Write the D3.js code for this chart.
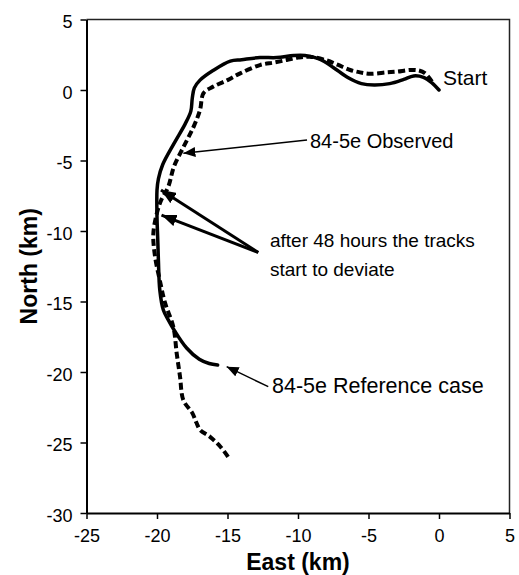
<!DOCTYPE html>
<html>
<head>
<meta charset="utf-8">
<script src="https://cdn.jsdelivr.net/npm/d3@7"></script>
<style>
  body { margin: 0; background: white; }
  text { font-family: "Liberation Sans", Arial, sans-serif; fill: #000; }
  .axis text { font-size: 18px; }
  .axis path, .axis line { stroke: #000; }
</style>
</head>
<body>
<script>
var width = 519;
var height = 575;

// axis ticks
var xTicks = [-25, -20, -15, -10, -5, 0, 5];
var yTicks = [5, 0, -5, -10, -15, -20, -25, -30];

// 84-5e Reference case (solid)
var refEast  = [0, -0.5, -1.1, -1.8, -2.5, -3.5, -4.6, -5.5, -6.5, -7.5, -8.5, -9.5, -10.3, -11.5, -12.7, -14.0, -14.8, -16.0, -16.95, -17.35, -17.5, -17.6, -18.0, -18.8, -19.6, -19.9, -20.0, -20.0, -19.95, -19.9, -19.8, -19.55, -19.2, -18.8, -17.9, -17.0, -16.3, -15.7];
var refNorth = [0, 0.5, 0.9, 1.0, 0.75, 0.45, 0.35, 0.45, 0.9, 1.6, 2.2, 2.45, 2.45, 2.3, 2.3, 2.15, 2.05, 1.4, 0.7, 0.15, -0.6, -1.5, -2.4, -3.8, -5.3, -6.3, -7.1, -9.0, -10.5, -12.1, -14.2, -15.6, -16.3, -17.0, -18.3, -19.1, -19.4, -19.5];

// 84-5e Observed (dashed)
var obsEast  = [-0.5, -1.0, -1.5, -2.06, -3.0, -3.71, -4.9, -5.6, -6.3, -7.2, -7.97, -9.15, -10.0, -10.8, -11.7, -12.7, -14.1, -15.0, -16.0, -16.7, -16.95, -17.4, -18.1, -18.8, -19.2, -19.7, -20.0, -20.26, -20.14, -19.8, -19.43, -18.84, -18.6, -18.37, -18.13, -17.5, -17.2, -16.95, -16.24, -15.5, -14.9];
var obsNorth = [0.6, 1.2, 1.4, 1.42, 1.3, 1.25, 1.15, 1.25, 1.42, 1.8, 2.1, 2.36, 2.3, 2.13, 1.95, 1.77, 1.18, 0.7, 0.24, -0.23, -1.42, -2.6, -4.0, -5.44, -6.86, -7.8, -8.7, -10.2, -11.8, -13.5, -15.1, -16.8, -18.7, -20.3, -22.0, -22.9, -23.6, -24.1, -24.6, -25.3, -26.1];

var margin = {top: 19.5, right: 9.5, bottom: 62, left: 86.5};

var x = d3.scaleLinear().domain([-25, 5]).range([margin.left, width - margin.right]);
var y = d3.scaleLinear().domain([-30, 5]).range([height - margin.bottom, margin.top]);

var svg = d3.select("body").append("svg")
  .attr("width", width)
  .attr("height", height);

var defs = svg.append("defs");
defs.append("marker")
  .attr("id", "headThin")
  .attr("markerUnits", "userSpaceOnUse")
  .attr("viewBox", "0 0 12 10")
  .attr("refX", 12).attr("refY", 5)
  .attr("markerWidth", 12).attr("markerHeight", 10)
  .attr("orient", "auto")
  .append("path").attr("d", "M0,0L12,5L0,10Z").attr("fill", "#000");
defs.append("marker")
  .attr("id", "headThick")
  .attr("markerUnits", "userSpaceOnUse")
  .attr("viewBox", "0 0 15 12")
  .attr("refX", 15).attr("refY", 6)
  .attr("markerWidth", 15).attr("markerHeight", 12)
  .attr("orient", "auto")
  .append("path").attr("d", "M0,0L15,6L0,12Z").attr("fill", "#000");

// frame (top and right)
svg.append("path")
  .attr("d", "M" + x(-25) + "," + y(5) + "H" + x(5) + "V" + y(-30))
  .attr("fill", "none")
  .attr("stroke", "#222")
  .attr("stroke-width", 1.5);

var fmt = function(d) { return String(d); };

var xAxis = svg.append("g")
  .attr("class", "axis")
  .attr("transform", "translate(0," + y(-30) + ")")
  .call(d3.axisBottom(x).tickValues(xTicks).tickFormat(fmt).tickSize(6).tickSizeOuter(0).tickPadding(10));
xAxis.select(".domain").attr("stroke-width", 2);
xAxis.selectAll(".tick line").attr("stroke-width", 1.5);

var yAxis = svg.append("g")
  .attr("class", "axis")
  .attr("transform", "translate(" + x(-25) + ",0)")
  .call(d3.axisLeft(y).tickValues(yTicks).tickFormat(fmt).tickSize(6).tickSizeOuter(0).tickPadding(8));
yAxis.select(".domain").attr("stroke-width", 2);
yAxis.selectAll(".tick line").attr("stroke-width", 1.5);
yAxis.selectAll(".tick text").attr("dy", "0.45em");

svg.append("text")
  .attr("x", (x(-25) + x(5)) / 2)
  .attr("y", 570)
  .attr("text-anchor", "middle")
  .attr("font-size", 23)
  .attr("font-weight", "bold")
  .text("East (km)");

svg.append("text")
  .attr("transform", "translate(37," + (y(-30) + y(5)) / 2 + ") rotate(-90)")
  .attr("text-anchor", "middle")
  .attr("font-size", 23)
  .attr("font-weight", "bold")
  .text("North (km)");

var line = d3.line()
  .x(function(d) { return x(d[0]); })
  .y(function(d) { return y(d[1]); })
  .curve(d3.curveCatmullRom);

var refData = refEast.map(function(d, i) { return [d, refNorth[i]]; });
var obsData = obsEast.map(function(d, i) { return [d, obsNorth[i]]; });

svg.append("path")
  .datum(obsData)
  .attr("d", line)
  .attr("fill", "none")
  .attr("stroke", "#000")
  .attr("stroke-width", 4)
  .attr("stroke-dasharray", "7,3.5");

svg.append("path")
  .datum(refData)
  .attr("d", line)
  .attr("fill", "none")
  .attr("stroke", "#000")
  .attr("stroke-width", 3.5)
  .attr("stroke-linecap", "round");

// annotations
function arrow(from, to, w, marker) {
  svg.append("line")
    .attr("x1", x(from[0])).attr("y1", y(from[1]))
    .attr("x2", x(to[0])).attr("y2", y(to[1]))
    .attr("stroke", "#000")
    .attr("stroke-width", w)
    .attr("marker-end", "url(#" + marker + ")");
}

arrow([-9.36, -3.55], [-18.13, -4.49], 1.5, "headThin");
arrow([-12.82, -11.52], [-19.72, -7.09], 3, "headThick");
arrow([-12.82, -11.52], [-19.68, -8.87], 3, "headThick");
arrow([-12.11, -21.04], [-15.06, -19.62], 1.5, "headThin");

function label(px, py, str, size) {
  svg.append("text")
    .attr("x", x(px)).attr("y", y(py))
    .attr("font-size", size)
    .text(str);
}

label(0.28, 0.35, "Start", 21);
label(-9.15, -4.11, "84-5e Observed", 20);
label(-11.99, -11.13, "after 48 hours the tracks", 19);
label(-11.99, -13.19, "start to deviate", 19);
label(-11.84, -21.51, "84-5e Reference case", 21.5);
</script>
</body>
</html>
